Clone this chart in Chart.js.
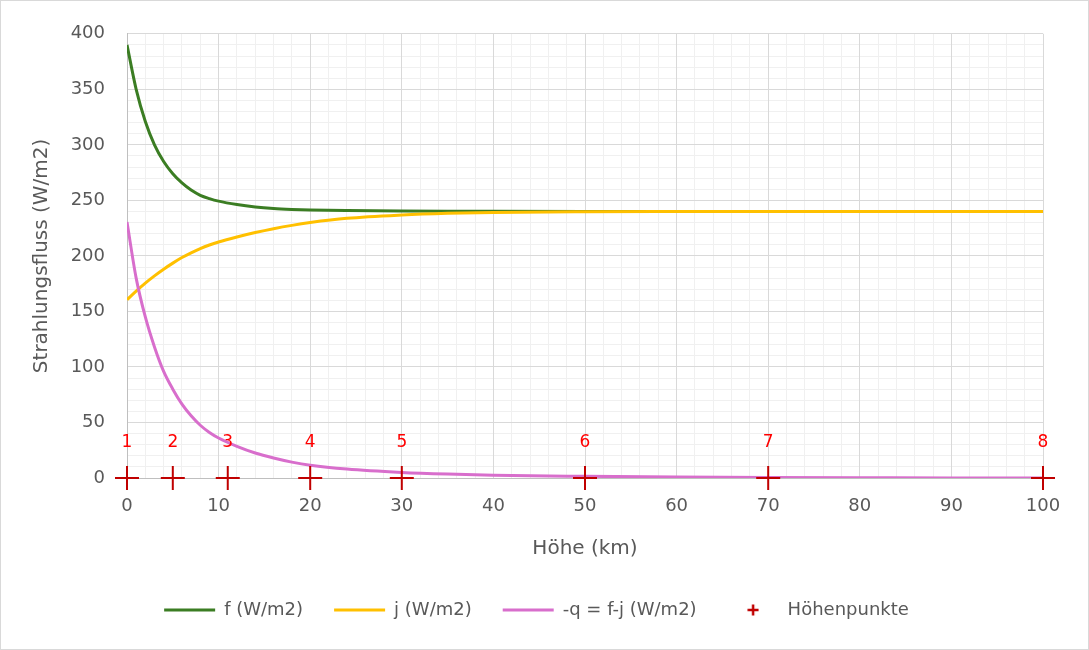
<!DOCTYPE html>
<html>
<head>
<meta charset="utf-8">
<script src="https://cdn.jsdelivr.net/npm/chart.js@4"></script>
<style>
  body { margin: 0; background: #fff; }
  #wrap { width: 1089px; height: 650px; box-sizing: border-box; border: 1px solid #D9D9D9; }
  canvas { display: block; }
</style>
</head>
<body>
<div id="wrap"><canvas id="fluxChart" width="1087" height="648"></canvas></div>
<script>
// Strahlungsfluss über der Höhe
const heights = [0, 1, 2, 3, 4, 5, 6, 7, 8, 9, 10, 12, 14, 16, 18, 20, 24, 30, 35, 40, 50, 60, 70, 80, 90, 100];
const fValues = [390, 350, 321, 300, 285, 274, 265.7, 259.3, 254.6, 251.6, 249.3, 246.2, 244, 242.6, 241.8, 241.3, 240.8, 240.4, 240.2, 240.1, 240, 240, 240, 240, 240, 240];
const jValues = [160.5, 168.3, 175.5, 182, 188, 193.5, 198.5, 202.8, 206.6, 209.8, 212.5, 217, 221, 224.5, 227.5, 230, 233.8, 236.8, 238.3, 239.1, 239.7, 239.9, 240, 240, 240, 240];
const qValues = [230.5, 180, 145, 118, 96, 80, 66.5, 56, 47.5, 41, 36, 28.5, 22.5, 18, 14.3, 11.5, 8, 5, 3.5, 2.5, 1.5, 0.8, 0.4, 0.2, 0.1, 0];

const pointHeights = [0, 5, 11, 20, 30, 50, 70, 100];
const pointLabels = ['1', '2', '3', '4', '5', '6', '7', '8'];

const xTicks = [0, 10, 20, 30, 40, 50, 60, 70, 80, 90, 100];
const yTicks = [0, 50, 100, 150, 200, 250, 300, 350, 400];

const textColor = '#595959';
const majorGrid = '#D9D9D9';
const minorGrid = '#F0F0F0';
const crossColor = '#C00000';

Chart.defaults.font.family = '"DejaVu Sans", sans-serif';
Chart.defaults.color = textColor;

const toXY = (vals) => heights.map((h, i) => ({ x: h, y: vals[i] }));

// kleines "+" für die Legende
const crossIcon = document.createElement('canvas');
crossIcon.width = 12;
crossIcon.height = 12;
const ic = crossIcon.getContext('2d');
ic.strokeStyle = crossColor;
ic.lineWidth = 2.5;
ic.beginPath();
ic.moveTo(6, 0.5); ic.lineTo(6, 11.5);
ic.moveTo(0.5, 6); ic.lineTo(11.5, 6);
ic.stroke();

// Nummern über den Höhenpunkten
const pointLabelsPlugin = {
  id: 'pointLabels',
  afterDatasetsDraw(chart) {
    const { ctx, scales: { x, y } } = chart;
    ctx.save();
    ctx.fillStyle = '#FF0000';
    ctx.font = '17px "DejaVu Sans"';
    ctx.textAlign = 'center';
    ctx.textBaseline = 'middle';
    pointHeights.forEach((h, i) => {
      ctx.fillText(pointLabels[i], x.getPixelForValue(h), y.getPixelForValue(0) - 35);
    });
    ctx.restore();
  }
};

const lineSet = (label, vals, color, order) => ({
  label: label,
  data: toXY(vals),
  borderColor: color,
  backgroundColor: color,
  borderWidth: 3,
  pointRadius: 0,
  pointStyle: 'line',
  cubicInterpolationMode: 'monotone',
  xAxisID: 'x',
  yAxisID: 'y',
  order: order
});

const ctx = document.getElementById('fluxChart').getContext('2d');
const fluxChart = new Chart(ctx, {
  type: 'line',
  data: {
    datasets: [
      lineSet('f (W/m2)', fValues, '#3B7D23', 3),
      lineSet('j (W/m2)', jValues, '#FFC000', 2),
      lineSet('-q = f-j (W/m2)', qValues, '#D86ECC', 1),
      {
        label: 'Höhenpunkte',
        data: pointHeights.map(h => ({ x: h, y: 0 })),
        showLine: false,
        pointStyle: 'cross',
        pointRadius: 12,
        pointHoverRadius: 12,
        borderColor: crossColor,
        backgroundColor: crossColor,
        borderWidth: 2,
        pointBorderWidth: 2,
        clip: false,
        xAxisID: 'x',
        yAxisID: 'y',
        order: 0
      }
    ]
  },
  options: {
    responsive: false,
    animation: false,
    layout: { padding: { left: 29, right: 45, top: 28, bottom: 20 } },
    plugins: {
      tooltip: { enabled: false },
      legend: {
        position: 'bottom',
        labels: {
          usePointStyle: true,
          pointStyleWidth: 51,
          boxHeight: 8,
          padding: 31,
          color: textColor,
          font: { size: 18 },
          sort: (a, b) => a.datasetIndex - b.datasetIndex,
          generateLabels: (chart) => {
            const items = Chart.defaults.plugins.legend.labels.generateLabels(chart);
            items.forEach(it => { if (it.datasetIndex === 3) it.pointStyle = crossIcon; });
            return items;
          }
        }
      }
    },
    scales: {
      x: {
        type: 'linear',
        min: 0,
        max: 100,
        afterBuildTicks: (scale) => { scale.ticks = xTicks.map(v => ({ value: v })); },
        afterFit: (scale) => { scale.height = 92; },
        ticks: { padding: 18, maxRotation: 0, autoSkip: false, font: { size: 18 }, color: textColor },
        grid: { color: majorGrid, drawTicks: false, z: -1 },
        border: { color: '#BFBFBF' },
        title: { display: true, text: 'Höhe (km)', color: textColor, font: { size: 20 }, padding: { top: 0, bottom: 9 } }
      },
      y: {
        type: 'linear',
        min: 0,
        max: 400,
        afterBuildTicks: (scale) => { scale.ticks = yTicks.map(v => ({ value: v })); },
        afterFit: (scale) => { scale.width = 97; },
        ticks: { padding: 22, font: { size: 18 }, color: textColor },
        grid: { color: majorGrid, drawTicks: false, z: -1 },
        border: { color: '#BFBFBF' },
        title: { display: true, text: 'Strahlungsfluss (W/m2)', color: textColor, font: { size: 20 }, padding: { top: 0, bottom: 0 } }
      },
      xMinor: {
        type: 'linear',
        position: 'bottom',
        min: 0,
        max: 100,
        afterFit: (scale) => { scale.height = 0; },
        ticks: { display: false, stepSize: 2, autoSkip: false },
        grid: { color: minorGrid, drawTicks: false, z: -2 },
        border: { display: false }
      },
      yMinor: {
        type: 'linear',
        position: 'left',
        min: 0,
        max: 400,
        afterFit: (scale) => { scale.width = 0; },
        ticks: { display: false, stepSize: 10, autoSkip: false },
        grid: { color: minorGrid, drawTicks: false, z: -2 },
        border: { display: false }
      }
    }
  },
  plugins: [pointLabelsPlugin]
});
</script>
</body>
</html>
